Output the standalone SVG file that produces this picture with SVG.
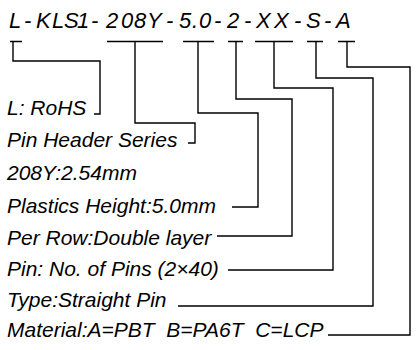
<svg xmlns="http://www.w3.org/2000/svg" width="416" height="350" viewBox="0 0 416 350">
<style>
text{font-family:"Liberation Sans",Arial,sans-serif;font-style:italic;font-size:21px;fill:#000}
.title{font-size:22px}
.ln{fill:none;stroke:#000;stroke-width:1.4}
</style>
<rect width="416" height="350" fill="#fff"/>
<g id="title"><text class="title" y="28" x="9 24 36 52 64 77 91 106 121 134 147 166 179 192 199 214 227 244 256 274 294 306 324 336">L-KLS1-208Y-5.0-2-XX-S-A</text></g>
<g id="connectors" class="ln">
<path d="M10 41.5H22M13 41.5V61H100V114H94"/>
<path d="M107 41.5H163M135 41.5V123H195V143H188"/>
<path d="M183 41.5H214M198 41.5V113H258V207H232"/>
<path d="M228 41.5H243M236 41.5V99H292V236H217"/>
<path d="M255 41.5H293M274 41.5V88H333V270H228"/>
<path d="M307 41.5H323M316 41.5V78H373V306H178"/>
<path d="M338 41.5H355M347 41.5V67H410V335H328"/>
</g>
<g id="n-rohs"><text x="7" y="115">L: RoHS</text></g>
<g id="n-series"><text x="7" y="147">Pin Header Series</text></g>
<g id="n-pitch"><text x="7" y="180">208Y:2.54mm</text></g>
<g id="n-height"><text x="7" y="213">Plastics Height:5.0mm</text></g>
<g id="n-row"><text x="7" y="245">Per Row:Double layer</text></g>
<g id="n-pins"><text x="7" y="276">Pin: No. of Pins (2×40)</text></g>
<g id="n-type"><text x="7" y="307">Type:Straight Pin</text></g>
<g id="n-material"><text x="7" y="337" xml:space="preserve">Material:A=PBT  B=PA6T  C=LCP</text></g>
</svg>
